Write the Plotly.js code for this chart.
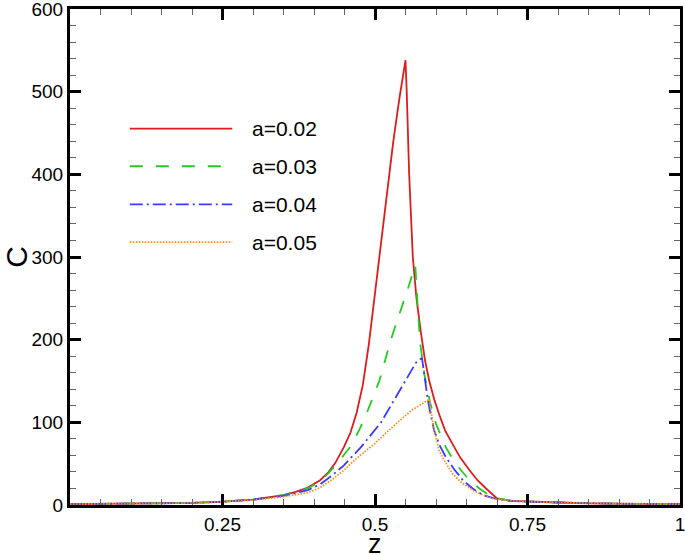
<!DOCTYPE html>
<html>
<head>
<meta charset="utf-8">
<script src="https://cdn.plot.ly/plotly-3.0.1.min.js"></script>
<style>
  html, body { margin: 0; padding: 0; background: #fff; }
  #chart { width: 685px; height: 555px; }
</style>
</head>
<body>
<div id="chart"></div>
<script>
// values
const names = ['a=0.02', 'a=0.03', 'a=0.04', 'a=0.05'];

const z02 = [0, 0.1, 0.2, 0.25, 0.3, 0.35, 0.37, 0.39, 0.41, 0.423, 0.435, 0.449, 0.46, 0.47, 0.48, 0.49, 0.50, 0.51, 0.52, 0.53, 0.54, 0.55,
             0.552, 0.556, 0.562, 0.568, 0.575, 0.582, 0.589, 0.597, 0.605, 0.615, 0.627, 0.64, 0.655, 0.668, 0.682, 0.692, 0.70, 0.723, 0.75, 0.8, 0.85, 0.9, 1.0];
const c02 = [1, 1.5, 2.5, 4, 6.5, 12, 16, 21, 30, 39, 51, 70, 88, 112, 145, 195, 255, 318, 380, 440, 492, 538,
             500, 400, 300, 250, 210, 175, 150, 128, 110, 90, 74, 57, 42, 30, 20, 13, 8, 5, 4, 3, 2, 1.5, 1];

const z03 = [0, 0.1, 0.2, 0.25, 0.3, 0.35, 0.39, 0.41, 0.423, 0.44, 0.449, 0.461, 0.475, 0.488, 0.507, 0.526, 0.554, 0.566,
             0.570, 0.574, 0.581, 0.59, 0.60, 0.608, 0.616, 0.628, 0.641, 0.655, 0.671, 0.685, 0.70, 0.723, 0.75, 0.8, 0.9, 1.0];
const c03 = [1, 1.5, 2.5, 4, 6.5, 12, 20, 29, 38, 52, 60, 72, 92, 114, 150, 200, 262, 290,
             240, 196, 158, 125, 98, 83, 70, 55, 42, 30, 20, 13, 8, 5, 4, 3, 1.5, 1];

const z04 = [0, 0.1, 0.2, 0.25, 0.3, 0.35, 0.39, 0.41, 0.43, 0.449, 0.477, 0.51, 0.534, 0.555, 0.567, 0.577,
             0.581, 0.586, 0.591, 0.597, 0.606, 0.616, 0.63, 0.644, 0.66, 0.677, 0.70, 0.723, 0.75, 0.8, 0.9, 1.0];
const c04 = [1, 1.5, 2.5, 4, 6.5, 11, 18, 25, 36, 48, 70, 100, 130, 158, 172, 178,
             155, 130, 110, 90, 72, 58, 43, 30, 20, 12, 7, 5, 4, 3, 1.5, 1];

const z05 = [0, 0.1, 0.2, 0.25, 0.3, 0.35, 0.39, 0.41, 0.43, 0.449, 0.466, 0.499, 0.531, 0.559, 0.589,
             0.595, 0.60, 0.605, 0.615, 0.627, 0.642, 0.66, 0.677, 0.693, 0.71, 0.75, 0.8, 0.9, 1.0];
const c05 = [1, 1.5, 2.5, 4, 6, 10, 15, 21, 31, 42, 54, 74, 96, 114, 128,
             98, 80, 66, 52, 38, 27, 18, 12, 8, 6, 4, 3, 1.5, 1];

const xTicks = [0.25, 0.5, 0.75, 1];
const xTickText = ['0.25', '0.5', '0.75', '1'];
const yTicks = [0, 100, 200, 300, 400, 500, 600];

const colors = ['#dd1c1c', '#22cc22', '#3a3aff', '#ff8c1a'];
const dashes = ['solid', '13px,13px', '13px,4px,2px,4px', '1.5px,1.5px'];
const zs = [z02, z03, z04, z05];
const cs = [c02, c03, c04, c05];

var traces = zs.map((z, i) => ({
  type: 'scatter', mode: 'lines',
  name: names[i],
  x: z, y: cs[i],
  line: {color: colors[i], width: 1.8, dash: dashes[i]},
  showlegend: false
}));

// hand-made legend with long line samples, like the original
var legendY = [0.759, 0.683, 0.606, 0.530];
var shapes = legendY.map((y, i) => ({
  type: 'line', xref: 'paper', yref: 'paper',
  x0: 0.098, x1: 0.266, y0: y, y1: y,
  line: {color: colors[i], width: 1.8, dash: dashes[i]}
}));
var annotations = legendY.map((y, i) => ({
  xref: 'paper', yref: 'paper', x: 0.295, y: y,
  xanchor: 'left', yanchor: 'middle', showarrow: false,
  text: names[i], font: {size: 21, color: '#000'}
}));
// x axis title sits lower than plotly's margin allows, so put it by hand
annotations.push({
  xref: 'paper', yref: 'paper', x: 0.5, y: -0.078,
  xanchor: 'center', yanchor: 'middle', showarrow: false,
  text: 'z', font: {size: 27, color: '#000'}
});

var layout = {
  width: 685, height: 555,
  margin: {l: 70, r: 5, t: 9, b: 50},
  paper_bgcolor: '#fff', plot_bgcolor: '#fff',
  font: {family: 'Liberation Sans, Arial, sans-serif', color: '#000'},
  showlegend: false,
  xaxis: {
    range: [0, 1], tickvals: xTicks, ticktext: xTickText,
    ticks: 'inside', ticklen: 11, tickwidth: 3, tickcolor: '#000',
    showline: true, linewidth: 3, linecolor: '#000', mirror: 'allticks',
    showgrid: false, zeroline: false, ticklabeloverflow: 'allow',
    tickfont: {size: 19},
    minor: {dtick: 0.05, tick0: 0, ticks: 'inside', ticklen: 6, tickwidth: 1, tickcolor: '#666', showgrid: false}
  },
  yaxis: {
    range: [0, 600], tickvals: yTicks,
    ticks: 'inside', ticklen: 11, tickwidth: 3, tickcolor: '#000',
    showline: true, linewidth: 3, linecolor: '#000', mirror: 'allticks',
    showgrid: false, zeroline: false, ticklabeloverflow: 'allow',
    tickfont: {size: 19},
    minor: {dtick: 20, tick0: 0, ticks: 'inside', ticklen: 6, tickwidth: 1, tickcolor: '#666', showgrid: false},
    title: {text: 'C', font: {size: 30}, standoff: 6}
  },
  shapes: shapes,
  annotations: annotations
};

Plotly.newPlot('chart', traces, layout, {displayModeBar: false, responsive: false});
</script>
</body>
</html>
